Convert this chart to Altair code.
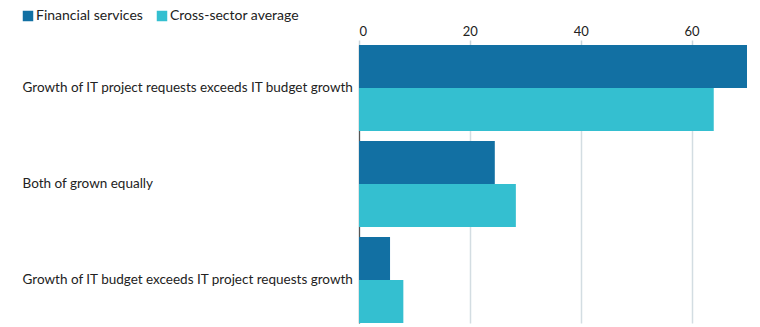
import altair as alt
import pandas as pd

categories = [
    "Growth of IT project requests exceeds IT budget growth",
    "Both of grown equally",
    "Growth of IT budget exceeds IT project requests growth",
]
series = ["Financial services", "Cross-sector average"]
financial = [70, 24.5, 5.6]
cross_sector = [64, 28.3, 8]
colors = ["#1270a3", "#34bfd0"]
x_ticks = [0, 20, 40, 60]

rows = []
for c, f, s in zip(categories, financial, cross_sector):
    rows.append({"category": c, "series": series[0], "value": f})
    rows.append({"category": c, "series": series[1], "value": s})
df = pd.DataFrame(rows)

FONT = "Lato"

chart = alt.Chart(df).mark_bar().encode(
    y=alt.Y("category:N", sort=categories, title=None,
            scale=alt.Scale(paddingInner=0.104, paddingOuter=0),
            axis=alt.Axis(ticks=False, labelPadding=337, labelAlign="left",
                          labelFontSize=13.5, labelColor="#222",
                          labelFont=FONT, labelLimit=400,
                          domainColor="#555", domainWidth=1.2)),
    yOffset=alt.YOffset("series:N", sort=series),
    x=alt.X("value:Q", title=None,
            scale=alt.Scale(domain=[0, 70], nice=False),
            axis=alt.Axis(orient="top", values=x_ticks, grid=True,
                          gridColor="#d3dde2", gridWidth=1.5,
                          tickColor="#c8d4da", tickSize=5, tickWidth=1.5,
                          domain=False, labelPadding=2, labelFontSize=13,
                          labelFont=FONT, labelColor="#222")),
    color=alt.Color("series:N", sort=series,
                    scale=alt.Scale(domain=series, range=colors),
                    legend=alt.Legend(orient="none", direction="horizontal",
                                      legendX=-338, legendY=-36, title=None,
                                      padding=0,
                                      symbolType="square", symbolSize=110,
                                      symbolStrokeWidth=0,
                                      labelFontSize=14, labelFont=FONT,
                                      labelColor="#222", columnPadding=12,
                                      symbolOffset=0, labelOffset=1)),
).properties(
    width=388, height=278,
    autosize=alt.AutoSizeParams(type="none"),
    padding={"left": 359, "top": 45, "right": 13, "bottom": 4},
).configure_view(stroke=None)

chart.save("out.html", embed_options={"renderer": "svg", "actions": False})
